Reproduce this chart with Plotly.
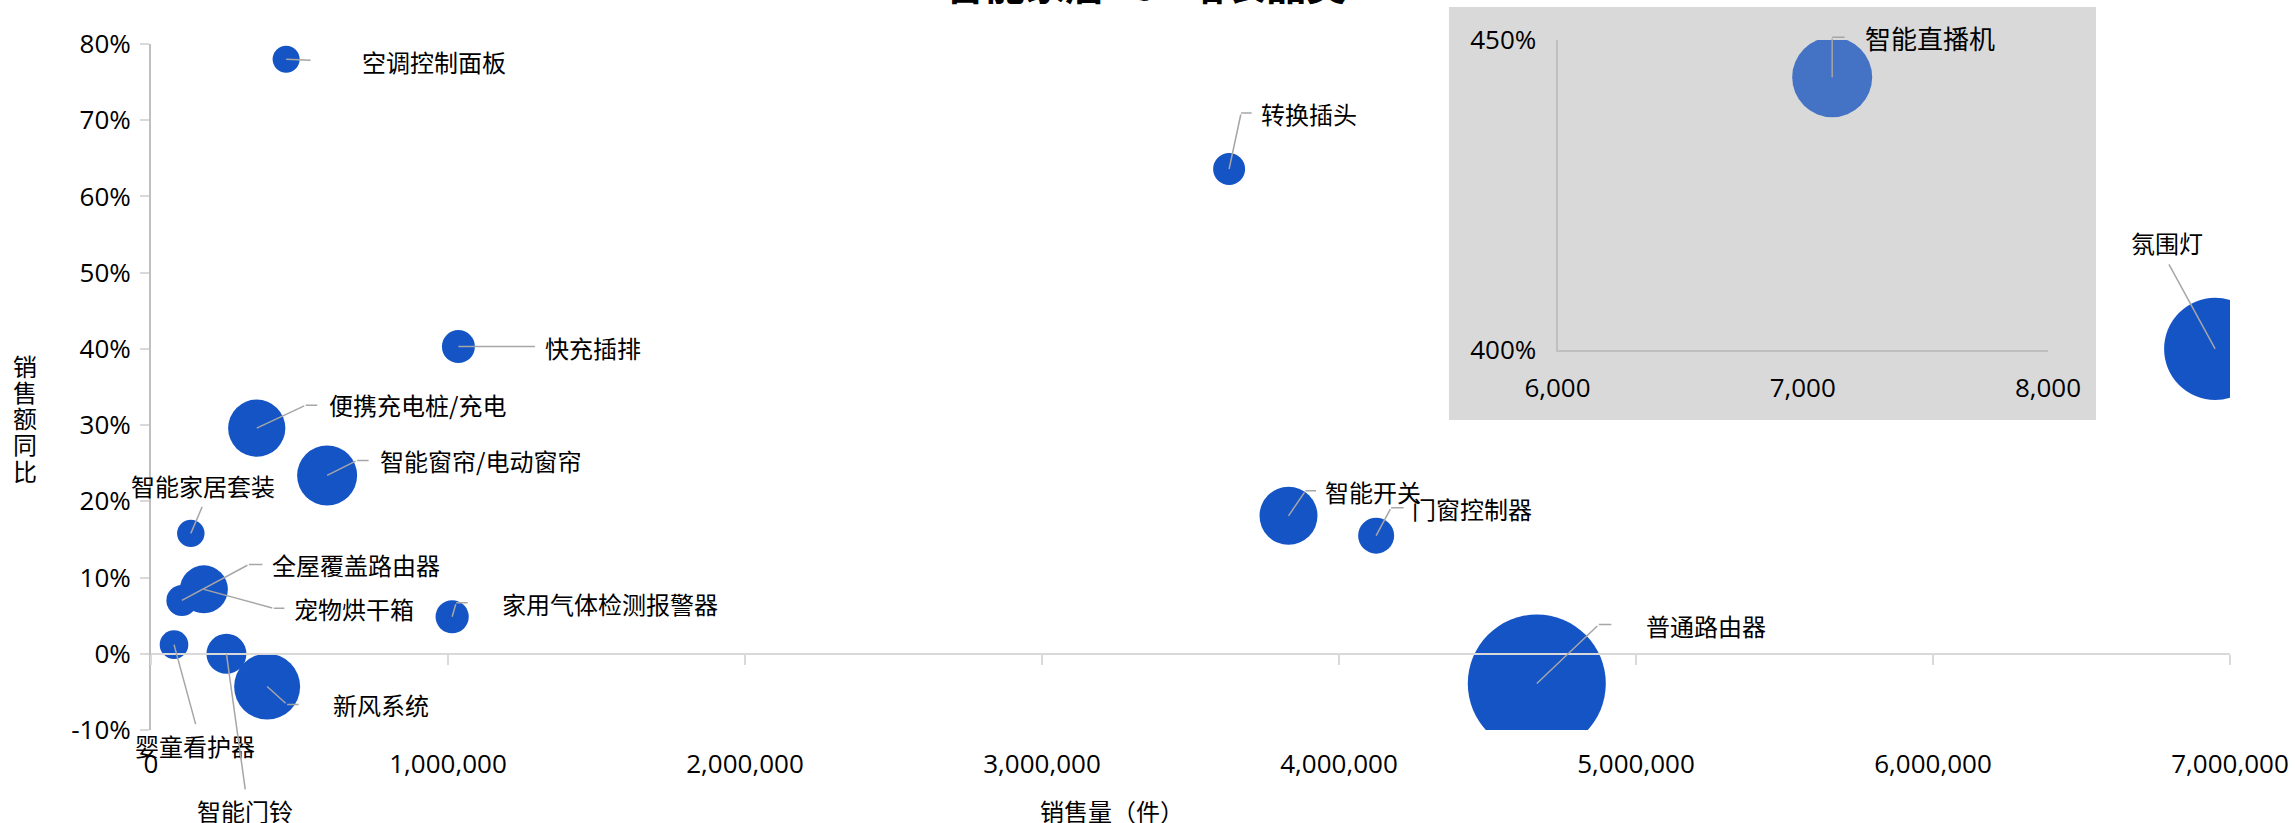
import plotly.graph_objects as go

# ---------------- data ----------------
categories = ["空调控制面板", "转换插头", "快充插排", "便携充电桩/充电", "智能窗帘/电动窗帘",
              "智能家居套装", "全屋覆盖路由器", "宠物烘干箱", "家用气体检测报警器", "婴童看护器",
              "智能门铃", "新风系统", "智能开关", "门窗控制器", "普通路由器", "氛围灯"]
sales_volume = [455000, 3630000, 1035000, 356000, 593000,
                134000, 104000, 178000, 1014000, 77500,
                254000, 391000, 3830000, 4125000, 4666000, 6950000]
sales_yoy = [0.780, 0.636, 0.403, 0.296, 0.234,
             0.158, 0.070, 0.0845, 0.0486, 0.012,
             0.000, -0.043, 0.181, 0.155, -0.039, 0.400]
sales_amount = [1.92, 2.69, 2.87, 8.61, 9.47,
                1.98, 2.53, 6.06, 2.90, 2.15,
                4.21, 11.46, 8.85, 3.41, 50.1, 27.4]

inset_categories = ["智能直播机"]
inset_volume = [7120]
inset_yoy = [4.44]
inset_amount = [1.0]

x_ticks = [0, 1000000, 2000000, 3000000, 4000000, 5000000, 6000000, 7000000]
y_ticks = [-0.1, 0.0, 0.1, 0.2, 0.3, 0.4, 0.5, 0.6, 0.7, 0.8]
inset_x_ticks = [6000, 7000, 8000]
inset_y_ticks = [4.0, 4.5]

title_text = "智能家居TOP增长品类"
x_title = "销售量（件）"
y_title = "销售额同比"

# ---------------- style / layout constants ----------------
W, H = 2295, 823
ML, MR, MT, MB = 151, 65, 40, 93
PW, PH = W - ML - MR, H - MT - MB

def px_x(px):
    return (px - ML) / PW

def px_y(py):
    return (H - MB - py) / PH

def pct(v):
    return f"{v * 100:.0f}%"

def thousands(v):
    return f"{v:,.0f}"

MAIN_COLOR = "#1554C5"
INSET_COLOR = "#4472C4"
LEAD_COLOR = "#A6A6A6"
CJK = "Noto Sans CJK SC"
NUM = "Open Sans"
label_font = dict(family=CJK, size=24, color="#000000")
tick_font = dict(family=NUM, size=26, color="#000000")

MAIN_RMAX = 69
INSET_RMAX = 40
main_sizeref = max(sales_amount) / (2 * MAIN_RMAX ** 2)
inset_sizeref = max(inset_amount) / (2 * INSET_RMAX ** 2)

# label offsets (px): text dx,dy ; elbow ex,ey ; horizontal segment length
label_layout = {
    "空调控制面板": (148, 2, 26, 1, 0),
    "转换插头": (80, -56, 12, -56, 12),
    "快充插排": (135, 1, 78, 0, 0),
    "便携充电桩/充电": (161, -24, 49, -23, 13),
    "智能窗帘/电动窗帘": (153, -15, 30, -15, 13),
    "智能家居套装": (12, -48, 12, -28, 0),
    "全屋覆盖路由器": (174, -36, 67, -36, 15),
    "宠物烘干箱": (150, 19, 70, 19, 12),
    "家用气体检测报警器": (158, -13, 4, -14, 13),
    "婴童看护器": (21, 101, 22, 81, 0),
    "智能门铃": (19, 157, 19, 137, 0),
    "新风系统": (114, 18, 20, 18, 13),
    "智能开关": (84, -24, 17, -25, 12),
    "门窗控制器": (96, -27, 15, -28, 14),
    "普通路由器": (169, -58, 62, -59, 14),
    "氛围灯": (-48, -106, -47, -86, 0),
}
inset_label_layout = {"智能直播机": (98, -40, 0, -40, 14)}

main_ydomain_top = (H - MB - 44) / PH
y0_pos = (0 - y_ticks[0]) / (y_ticks[-1] - y_ticks[0]) * main_ydomain_top

fig = go.Figure()

fig.add_trace(go.Scatter(
    x=sales_volume, y=sales_yoy, mode="markers", xaxis="x", yaxis="y",
    marker=dict(size=sales_amount, sizemode="area", sizeref=main_sizeref,
                color=MAIN_COLOR, opacity=1, line=dict(width=0)),
    cliponaxis=True, showlegend=False, hoverinfo="skip"))

# dummy trace so the zero-line axis is drawn
fig.add_trace(go.Scatter(x=[None], y=[None], xaxis="x2", yaxis="y",
                         showlegend=False, hoverinfo="skip"))

fig.add_trace(go.Scatter(
    x=inset_volume, y=inset_yoy, mode="markers", xaxis="x3", yaxis="y3",
    marker=dict(size=inset_amount, sizemode="area", sizeref=inset_sizeref,
                color=INSET_COLOR, opacity=1, line=dict(width=0)),
    cliponaxis=True, showlegend=False, hoverinfo="skip"))

annotations = []

def add_labels(names, xs, ys, layout_map, xref, yref, font):
    for name, xv, yv in zip(names, xs, ys):
        dx, dy, ex, ey, hl = layout_map[name]
        annotations.append(dict(x=xv, y=yv, xref=xref, yref=yref, text=name,
                                showarrow=False, xshift=dx, yshift=-dy,
                                xanchor="center", yanchor="middle", font=font))
        annotations.append(dict(x=xv, y=yv, xref=xref, yref=yref, text="",
                                showarrow=True, ax=ex, ay=ey, arrowhead=0,
                                arrowwidth=1.5, arrowcolor=LEAD_COLOR,
                                standoff=0, startstandoff=0, font=dict(size=1)))
        if hl:
            annotations.append(dict(x=xv, y=yv, xref=xref, yref=yref, text="",
                                    showarrow=True, ax=hl, ay=0, xshift=ex, yshift=-ey,
                                    arrowhead=0, arrowwidth=1.5, arrowcolor=LEAD_COLOR,
                                    standoff=0, startstandoff=0, font=dict(size=1)))

add_labels(categories, sales_volume, sales_yoy, label_layout, "x", "y", label_font)
add_labels(inset_categories, inset_volume, inset_yoy, inset_label_layout, "x3", "y3",
           dict(family=CJK, size=26, color="#000000"))

# title (partly cut off at the top, as in the reference)
annotations.append(dict(x=px_x(1145), y=px_y(14), xref="paper", yref="paper",
                        text="<b>" + title_text + "</b>", showarrow=False,
                        xanchor="center", yanchor="bottom",
                        font=dict(family=CJK, size=40, color="#000000")))
# x axis title
annotations.append(dict(x=px_x(1112), y=px_y(810), xref="paper", yref="paper",
                        text=x_title, showarrow=False, xanchor="center", yanchor="middle",
                        font=dict(family=CJK, size=24, color="#000000")))
# y axis title, stacked characters
for i, ch in enumerate(y_title):
    annotations.append(dict(x=px_x(25), y=px_y(365 + i * 26.3), xref="paper", yref="paper",
                            text=ch, showarrow=False, xanchor="center", yanchor="middle",
                            font=dict(family=CJK, size=24, color="#000000")))

shapes = [dict(type="rect", xref="paper", yref="paper",
               x0=px_x(1449), x1=px_x(2096), y0=px_y(420), y1=px_y(7),
               fillcolor="#D9D9D9", line=dict(width=0), layer="below")]

fig.update_layout(
    width=W, height=H,
    margin=dict(l=ML, r=MR, t=MT, b=MB, pad=0, autoexpand=False),
    paper_bgcolor="white", plot_bgcolor="rgba(0,0,0,0)",
    showlegend=False,
    xaxis=dict(domain=[0, 1], anchor="y", range=[x_ticks[0], x_ticks[-1]], automargin=False,
               tickmode="array", tickvals=x_ticks, ticktext=[thousands(v) for v in x_ticks],
               showline=False, ticks="", showgrid=False, zeroline=False,
               tickfont=tick_font, ticklabelstandoff=16),
    xaxis2=dict(overlaying="x", anchor="free", position=y0_pos, automargin=False,
                range=[x_ticks[0], x_ticks[-1]], tickmode="array", tickvals=x_ticks,
                showticklabels=False, ticks="outside", ticklen=10, tickwidth=2,
                tickcolor="#D9D9D9", showline=True, linecolor="#D9D9D9", linewidth=2,
                showgrid=False, zeroline=False),
    yaxis=dict(domain=[0, main_ydomain_top], anchor="x", automargin=False,
               range=[y_ticks[0], y_ticks[-1]], tickmode="array", tickvals=y_ticks,
               ticktext=[pct(v) for v in y_ticks], showline=True, linecolor="#BFBFBF",
               linewidth=2, ticks="outside", ticklen=9, tickwidth=1.5, tickcolor="#D9D9D9",
               showgrid=False, zeroline=False, tickfont=tick_font, ticklabelstandoff=4),
    xaxis3=dict(domain=[px_x(1557.5), px_x(2048)], anchor="y3", automargin=False,
                range=[inset_x_ticks[0], inset_x_ticks[-1]], tickmode="array",
                tickvals=inset_x_ticks, ticktext=[thousands(v) for v in inset_x_ticks],
                showline=True, linecolor="#BFBFBF", linewidth=2, ticks="", showgrid=False,
                zeroline=False, tickfont=tick_font, ticklabelstandoff=14),
    yaxis3=dict(domain=[px_y(350), 1.0], anchor="x3", automargin=False,
                range=[inset_y_ticks[0], inset_y_ticks[-1]], tickmode="array",
                tickvals=inset_y_ticks, ticktext=[pct(v) for v in inset_y_ticks],
                showline=True, linecolor="#BFBFBF", linewidth=2, ticks="", showgrid=False,
                zeroline=False, tickfont=tick_font, ticklabelstandoff=14),
    annotations=annotations,
    shapes=shapes,
)

fig.write_html("out.html", config={"displayModeBar": False},
               post_script="document.body.style.margin='0';document.body.style.overflow='hidden';")
